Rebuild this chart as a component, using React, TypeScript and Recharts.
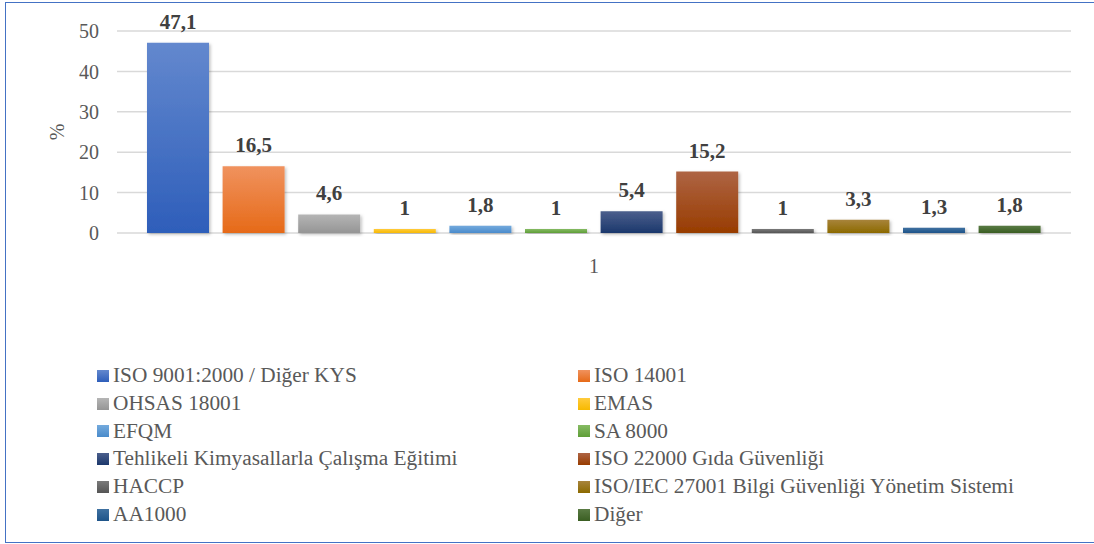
import React from "react";
import { BarChart, Bar, XAxis, YAxis, CartesianGrid, LabelList } from "recharts";

// Share of organisations holding each certificate (%)
const categories = ["1"];
const seriesNames = [
  "ISO 9001:2000 / Diğer KYS",
  "ISO 14001",
  "OHSAS 18001",
  "EMAS",
  "EFQM",
  "SA 8000",
  "Tehlikeli Kimyasallarla Çalışma Eğitimi",
  "ISO 22000 Gıda Güvenliği",
  "HACCP",
  "ISO/IEC 27001 Bilgi Güvenliği Yönetim Sistemi",
  "AA1000",
  "Diğer",
];
const seriesValues = [47.1, 16.5, 4.6, 1, 1.8, 1, 5.4, 15.2, 1, 3.3, 1.3, 1.8];
const yTicks = [0, 10, 20, 30, 40, 50];

const topColors = [
  "#6388CE", "#F0925E", "#B5B5B5", "#FFCB3D", "#74AADD", "#86BB63",
  "#4B5F8C", "#AE6444", "#7A7A7A", "#A8843C", "#3F71A1", "#5A7B44",
];
const bottomColors = [
  "#2E5EBA", "#E66A18", "#959595", "#F7B900", "#4A8BCB", "#5F9E38",
  "#1C386C", "#983C00", "#555555", "#8C6A00", "#1E5489", "#3A5E22",
];

const data = categories.map((c) => {
  const row: Record<string, string | number> = { name: c };
  seriesNames.forEach((_, i) => {
    row["s" + i] = seriesValues[i];
  });
  return row;
});

const FONT = "Liberation Serif, Times New Roman, serif";
const fmt = (v: any) => String(v).replace(".", ",");

const YLabel = (props: any) => {
  const vb = props.viewBox || {};
  const x = 57;
  const y = vb.y + vb.height / 2;
  return (
    <text
      x={x}
      y={y}
      transform={`rotate(-90 ${x} ${y})`}
      textAnchor="middle"
      dominantBaseline="central"
      fill="#595959"
      fontSize={20}
      fontFamily={FONT}
    >
      %
    </text>
  );
};

export default function App() {
  const rows = Math.ceil(seriesNames.length / 2);
  return (
    <div
      style={{
        position: "absolute",
        left: 0,
        top: 0,
        width: 1094,
        height: 544,
        overflow: "hidden",
        background: "#fff",
        fontFamily: FONT,
      }}
    >
      <div
        style={{
          position: "absolute",
          left: 5,
          top: 2,
          width: 1100,
          height: 541,
          border: "1.5px solid #4472C4",
          boxSizing: "border-box",
        }}
      />
      <div style={{ position: "absolute", left: 0, top: 0 }}>
        <BarChart
          width={1094}
          height={280}
          data={data}
          margin={{ top: 31, right: 23, left: 0, bottom: 0 }}
          barSize={62}
          barGap={13.6}
        >
          <defs>
            {seriesNames.map((_, i) => (
              <linearGradient key={i} id={"grad" + i} x1="0" y1="0" x2="0" y2="1">
                <stop offset="0%" stopColor={topColors[i]} />
                <stop offset="100%" stopColor={bottomColors[i]} />
              </linearGradient>
            ))}
            <filter id="barShadow" x="-10%" y="-10%" width="130%" height="130%">
              <feDropShadow dx="1.5" dy="1.5" stdDeviation="1.5" floodColor="#000" floodOpacity="0.25" />
            </filter>
          </defs>
          <CartesianGrid vertical={false} stroke="#D9D9D9" strokeWidth={1.5} />
          <XAxis
            dataKey="name"
            axisLine={false}
            tickLine={false}
            height={47}
            tickMargin={20}
            tick={{ fill: "#595959", fontSize: 20, fontFamily: FONT }}
          />
          <YAxis
            domain={[0, 50]}
            ticks={yTicks}
            width={117}
            axisLine={false}
            tickLine={false}
            tickMargin={12}
            tick={{ fill: "#595959", fontSize: 20, fontFamily: FONT }}
            label={<YLabel />}
          />
          {seriesNames.map((n, i) => (
            <Bar
              key={n}
              dataKey={"s" + i}
              name={n}
              fill={`url(#grad${i})`}
              filter="url(#barShadow)"
              isAnimationActive={false}
            >
              <LabelList
                dataKey={"s" + i}
                position="top"
                offset={14}
                formatter={fmt}
                fill="#404040"
                fontSize={21}
                fontWeight="bold"
                fontFamily={FONT}
              />
            </Bar>
          ))}
        </BarChart>
      </div>
      <div
        style={{
          position: "absolute",
          left: 97,
          top: 362,
          display: "grid",
          gridTemplateColumns: "481px 481px",
          gridTemplateRows: `repeat(${rows}, 27.8px)`,
          color: "#595959",
          fontSize: 21.3,
          lineHeight: "27.8px",
        }}
      >
        {seriesNames.map((n, i) => (
          <div key={n} style={{ display: "flex", alignItems: "center", whiteSpace: "nowrap" }}>
            <span
              style={{
                display: "inline-block",
                width: 12,
                height: 12,
                marginRight: 4,
                background: `linear-gradient(${topColors[i]}, ${bottomColors[i]})`,
              }}
            />
            <span>{n}</span>
          </div>
        ))}
      </div>
    </div>
  );
}
